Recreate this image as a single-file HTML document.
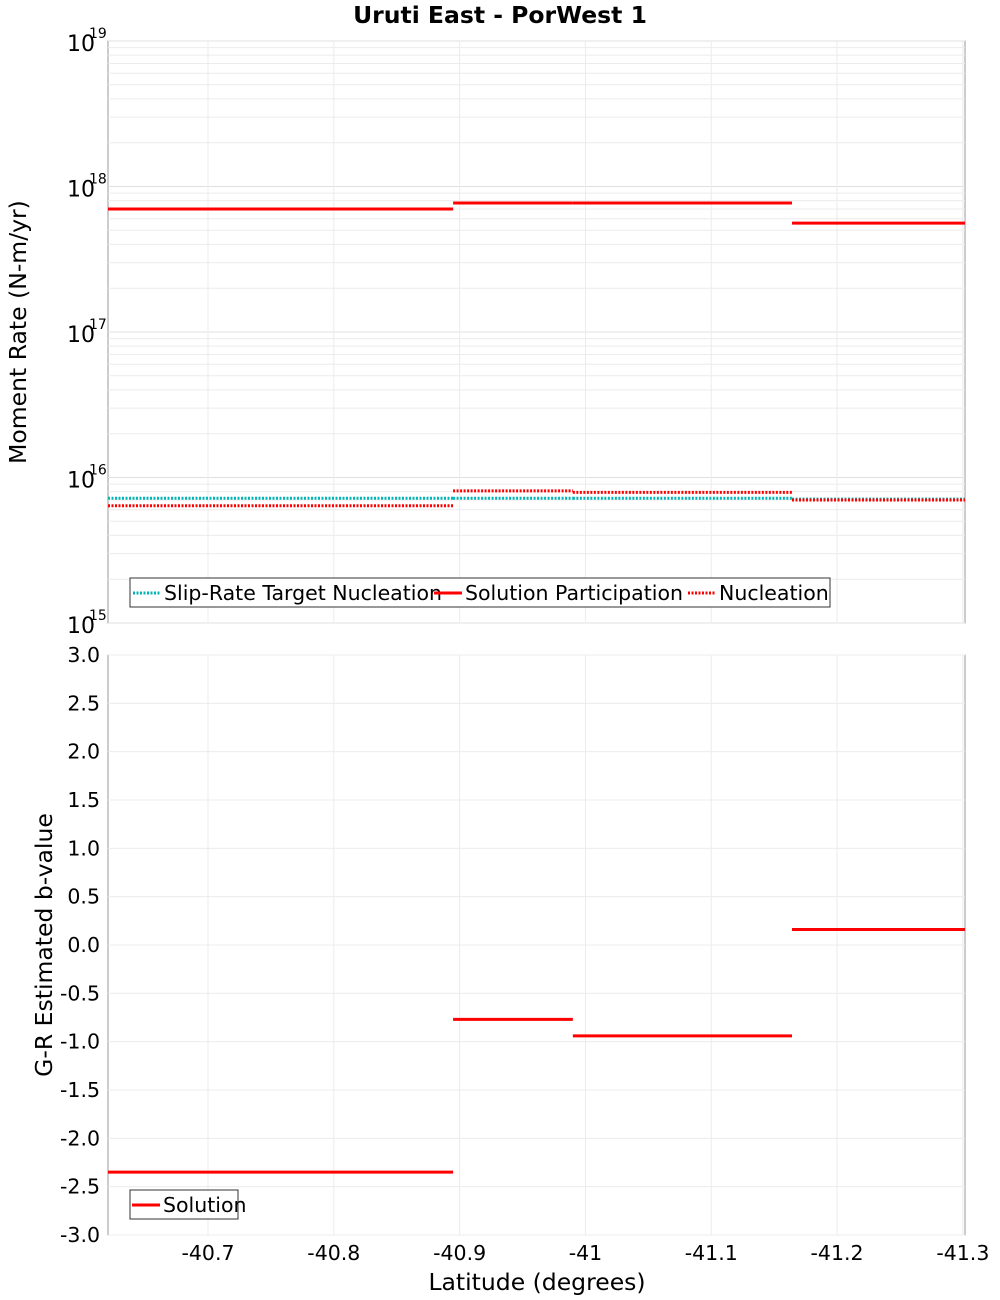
<!DOCTYPE html>
<html><head><meta charset="utf-8"><style>
body{margin:0;background:#fff;font-family:"Liberation Sans","DejaVu Sans",sans-serif}
svg{display:block}
text{font-family:"DejaVu Sans","Liberation Sans",sans-serif}
</style></head><body>
<svg id="chart" width="1000" height="1300" xmlns="http://www.w3.org/2000/svg">
<text x="500" y="23" text-anchor="middle" font-size="23.5" font-weight="bold">Uruti East - PorWest 1</text>
<text transform="translate(26,332) rotate(-90)" text-anchor="middle" font-size="23.5">Moment Rate (N-m/yr)</text>
<text transform="translate(52,945) rotate(-90)" text-anchor="middle" font-size="23.5">G-R Estimated b-value</text>
<text x="537" y="1290" text-anchor="middle" font-size="23.5">Latitude (degrees)</text>
<g id="g"></g>
</svg>
<script>
const sectionBounds = [-40.6205, -40.8948, -40.990, -41.1642, -41.3017];
const xTicks = [-40.7, -40.8, -40.9, -41, -41.1, -41.2, -41.3];
const xTickLabels = ["-40.7","-40.8","-40.9","-41","-41.1","-41.2","-41.3"];
const participation = [7.0e17, 7.7e17, 7.7e17, 5.6e17];
const targetNucleation = [7.2e15, 7.2e15, 7.2e15, 7.1e15];
const nucleation = [6.4e15, 8.1e15, 7.9e15, 7.0e15];
const bValues = [-2.35, -0.77, -0.94, 0.16];
const bTicks = [3,2.5,2,1.5,1,0.5,0,-0.5,-1,-1.5,-2,-2.5,-3];
const logDecades = [15,16,17,18,19];

const NS="http://www.w3.org/2000/svg";
const g=document.getElementById('g');
function el(tag,attrs,parent){const e=document.createElementNS(NS,tag);for(const k in attrs)e.setAttribute(k,attrs[k]);(parent||g).appendChild(e);return e;}
const X0=108,X1=965;
const xs=v=>X0+(sectionBounds[0]-v)/(sectionBounds[0]-sectionBounds[sectionBounds.length-1])*(X1-X0);
const T0=41,T1=623;
const ty=v=>T0+(19-Math.log10(v))/4*(T1-T0);
const B0=655,B1=1235;
const by=v=>B0+(3-v)/6*(B1-B0);

let r=el('rect',{x:X0,y:T0,width:X1-X0,height:T1-T0,fill:'#fff',stroke:'#999'});


for(let d=15;d<19;d++){for(let m=2;m<=9;m++){const y=ty(m*Math.pow(10,d));
 const l=el('line',{x1:X0,x2:X1,y1:y,y2:y,stroke:'#ececec'});
 
 }}
logDecades.forEach(d=>{const y=ty(Math.pow(10,d));
 const l=el('line',{x1:X0,x2:X1,y1:y,y2:y,stroke:'#e0e0e0'});
 
 
 const t=el('text',{x:95,y:y+10,'text-anchor':'end','font-size':'22'});t.textContent='10';
 
 
 const s=el('text',{x:89,y:y-3,'font-size':'14'});s.textContent=d;
 
 });
r=el('rect',{x:X0,y:B0,width:X1-X0,height:B1-B0,fill:'#fff',stroke:'#999'});


bTicks.forEach(v=>{const y=by(v);
 const l=el('line',{x1:X0,x2:X1,y1:y,y2:y,stroke:'#ececec'});
 
 
 const t=el('text',{x:100,y:y+7,'text-anchor':'end','font-size':'20.5'});t.textContent=v.toFixed(1);
 
 });
xTicks.forEach((v,i)=>{const x=xs(v);
 [[T0,T1],[B0,B1]].forEach(p=>{const l=el('line',{x1:x,x2:x,y1:p[0],y2:p[1],stroke:'#ececec'});
  
  });
 const t=el('text',{x:x,y:1260,'text-anchor':'middle','font-size':'20.5'});t.textContent=xTickLabels[i];
 
 });

function steps(vals,yf,color,dash,name){vals.forEach((v,i)=>{
 const l=el('line',{x1:xs(sectionBounds[i]),x2:xs(sectionBounds[i+1]),y1:yf(v),y2:yf(v),stroke:color,'stroke-width':3});
 if(dash)l.setAttribute('stroke-dasharray',dash);
 
 });}
steps(targetNucleation,ty,'#00b5b5','2 1.5','target-nucleation-segment');
steps(nucleation,ty,'#ff0000','2 1.5','nucleation-segment');
steps(participation,ty,'#ff0000',null,'participation-segment');
steps(bValues,by,'#ff0000',null,'b-value-segment');

function legend(x,y,w,items,name){const lg=el('g',{});
 
 
 el('rect',{x:x,y:y,width:w,height:29,fill:'#fff',stroke:'#333'},lg);
 items.forEach(it=>{const ln=el('line',{x1:it[0],x2:it[0]+28,y1:y+15,y2:y+15,stroke:it[2],'stroke-width':3},lg);
  if(it[3])ln.setAttribute('stroke-dasharray','2 1.5');
  const t=el('text',{x:it[0]+31,y:y+22,'font-size':'20.5'},lg);t.textContent=it[1];
  
  });}
legend(130,578,700,[[133,'Slip-Rate Target Nucleation','#00b5b5',1],[434,'Solution Participation','#ff0000',0],[688,'Nucleation','#ff0000',1]],'top-legend');
legend(130,1190,108,[[132,'Solution','#ff0000',0]],'bottom-legend');
</script>
</body></html>
